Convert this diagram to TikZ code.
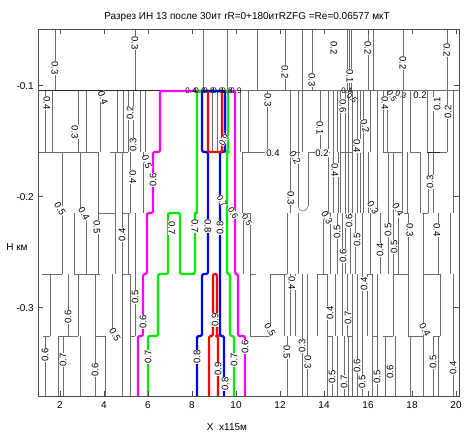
\documentclass[tikz,border=0pt]{standalone}
\usepackage{fontspec}
\setmainfont{Liberation Sans}
\definecolor{cmag}{RGB}{255,0,255}
\definecolor{cgrn}{RGB}{0,235,0}
\definecolor{cblu}{RGB}{0,0,255}
\definecolor{cred}{RGB}{255,0,0}
\begin{document}
\begin{tikzpicture}[x=1pt,y=-1pt,
  g/.style={draw=black!58,line width=0.5pt},
  gd/.style={draw=black!85,line width=0.9pt},
  frm/.style={draw=black!70,line width=0.6pt},
  cl/.style={line width=2.3pt,rounded corners=2pt,line join=round},
  lab/.style={font=\fontsize{9.5}{9.5}\selectfont,fill=white,inner sep=0.2pt},
  labs/.style={font=\fontsize{8.5}{8.5}\selectfont,fill=white,inner sep=0.1pt},
  labn/.style={font=\fontsize{8}{8}\selectfont,inner sep=0pt},
  tlab/.style={font=\fontsize{10}{10}\selectfont,inner sep=0pt},
]
\path[use as bounding box] (0,0) rectangle (465,434);
% ---- gray contour verticals per layer
\foreach \x in {55,135,203,227,257,285,302,312,347,349,351,368,373,403,447} \draw[g] (\x,29)--(\x,90);
\foreach \x in {45,52,78,86,100,117,123,128,133,140,145,212,217,240,248,267,290,298,302,320,328,333,337,340,345,348,352,357,360,363,370,377,383,387,402,410,427,433,447,453} \draw[g] (\x,90)--(\x,152);
\foreach \x in {62,80,98,115,122,130,143,242,290,328,333,338,340,345,348,352,357,360,363,368,377,388,393,402,407,420,428,433,453} \draw[g] (\x,152)--(\x,213);
\draw[g] (298,152)--(298,206); \draw[g] (308,152)--(308,206); \draw[g] (298,206) arc[start angle=180,end angle=360,radius=5pt];
\foreach \x in {62,74,86,98,115,122,128,135,243,250,287,298,323,330,337,342,345,350,355,362,370,380,388,393,398,408,423,438,450} \draw[g] (\x,213)--(\x,274);
\foreach \x in {50,68,78,95,112,122,130,135,250,270,284,290,295,302,307,317,327,335,342,347,352,357,362,367,372,377,393,408,423,440,453} \draw[g] (\x,274)--(\x,336);
\foreach \x in {45,58,63,80,95,105,122,130,287,302,307,327,332,337,344,348,352,357,362,372,377,385,395,410,423,433,438,453} \draw[g] (\x,336)--(\x,396);
% ---- boundary horizontals
\draw[g] (38,90)--(459,90);
\draw[gd] (38,90)--(165,90);
\foreach \a/\b in {38/98,110/128,242/265,290/300,308/330,340/352,383/402,410/420,427/447} \draw[g] (\a,152)--(\b,152);
\draw[gd] (427,152)--(440,152);
\foreach \a/\b in {98/115,122/130,243/250,327/330,398/408,422/428} \draw[g] (\a,213)--(\b,213);
\foreach \a/\b in {42/62,74/100,122/130,250/256,270/287,317/327,367/372,393/408,423/440} \draw[g] (\a,274)--(\b,274);
\foreach \a/\b in {43/50,58/78,95/105,130/135,250/270,327/332,347/352,372/377,383/393,408/423,433/440} \draw[g] (\a,336)--(\b,336);
% ---- coloured contours
\draw[cl,cmag] (138,396)--(138,336)--(143,336)--(143,274)--(147,274)--(147,213)--(153,213)--(153,152)--(160,152)--(160,91)--(235,91)--(235,274)--(238,274)--(238,336)--(245,336)--(245,396);
\draw[cl,cgrn] (148,396)--(148,336)--(158,336)--(158,274)--(168,274)--(168,213)--(180,213)--(180,274)--(195,274)--(195,213)--(197,213)--(197,91)--(228,91)--(228,152)--(227,152)--(227,274)--(230,274)--(230,336)--(234,336)--(234,396);
\draw[cl,cblu] (197,396)--(197,336)--(202,336)--(202,274)--(208,274)--(208,152)--(202,152)--(202,91)--(225,91)--(225,152)--(220,152)--(220,336)--(224,336)--(224,396);
\draw[cl,cred] (208,91)--(208,152)--(222,152)--(222,91);
\draw[cl,cred] (209,396)--(209,336)--(213,336)--(213,274)--(217,274)--(217,336)--(218,336)--(218,396);
% ---- frame and ticks
\draw[frm] (38,29) rectangle (459,396);
\foreach \x in {60,104,148,192,236,280,324,368,412,456} {\draw[frm] (\x,396)--(\x,391); \draw[frm] (\x,29)--(\x,34);}
\foreach \y in {85,196,307} {\draw[frm] (38,\y)--(43,\y); \draw[frm] (459,\y)--(454,\y);}
% ---- contour labels
\node[lab,rotate=-90] (t1) at (55,68) {0.3};
\node[lab,rotate=-90] (t2) at (135,43) {0.3};
\node[lab,rotate=-90] (t3) at (285,72) {0.2};
\node[lab,rotate=-90] (t4) at (312,80) {0.3};
\node[lab,rotate=-90] (t5) at (334,48) {0.2};
\node[lab,rotate=-90] (t6) at (350,76) {0.1};
\node[lab,rotate=-90] (t7) at (368,48) {0.2};
\node[lab,rotate=-90] (t8) at (403,63) {0.2};
\node[lab,rotate=-90] (t9) at (447,50) {0.2};
\node[lab,rotate=-90] (a1) at (47,103) {0.4};
\node[lab,rotate=-90] (a2) at (75,132) {0.3};
\node[lab,rotate=-70] (a3) at (103,98) {0.4};
\node[lab,rotate=90] (a4) at (130,113) {0.2};
\node[lab,rotate=90] (a5) at (133,145) {0.3};
\node[lab,rotate=-70] (a6) at (147,162) {0.5};
\node[lab,rotate=-90] (a7) at (268,100) {0.3};
\node[lab,rotate=-90] (a8) at (320,128) {0.1};
\node[lab,rotate=-75] (a9) at (365,126) {0.2};
\node[lab,rotate=-90] (a10) at (357,146) {0.4};
\node[lab,rotate=90] (a11) at (437,104) {0.1};
\node[lab,rotate=90] (a12) at (448,112) {0.2};
\node[lab] (a13) at (420,95) {0.2};
\node[lab,rotate=-90] (a14) at (385,103) {0.4};
\node[labn,rotate=-60] (a15) at (392,96) {0.5};
\node[labn,rotate=-20] (a16) at (401,95) {0.3};
\node[lab,rotate=-90] (a17) at (343,106) {0.6};
\node[labn,rotate=-45] (a18) at (352,98) {0.5};
\node[labn] (a19) at (347,91) {0.4};
\node[labn] (c1) at (191,91) {0.4};
\node[labn] (c2) at (200,91) {0.6};
\node[labn] (c3) at (209,91) {0.8};
\node[labn] (c4) at (218,91) {0.9};
\node[labn] (c5) at (227,91) {0.8};
\node[labn] (c6) at (236,91) {0.9};
\node[labs,rotate=60] (c7) at (224,140) {0.9};
\node[lab] (b1) at (273,153) {0.4};
\node[lab,rotate=-60] (b2) at (295,158) {0.2};
\node[lab] (b3) at (322,153) {0.2};
\node[lab,rotate=-90] (b4) at (133,177) {0.4};
\node[lab,rotate=90] (b5) at (153,180) {0.6};
\node[lab,rotate=-90] (b6) at (335,170) {0.4};
\node[lab,rotate=90] (b7) at (430,182) {0.3};
\node[lab,rotate=-90] (b8) at (291,198) {0.3};
\node[lab,rotate=-60] (d1) at (60,209) {0.5};
\node[lab,rotate=-60] (d2) at (84,214) {0.4};
\node[lab,rotate=-90] (d3) at (97,227) {0.5};
\node[lab,rotate=90] (d4) at (122,235) {0.4};
\node[lab,rotate=-90] (d5) at (172,228) {0.7};
\node[lab,rotate=-90] (d6) at (195,226) {0.7};
\node[lab,rotate=-90] (d7) at (208,226) {0.8};
\node[lab,rotate=90] (d8) at (220,228) {0.8};
\node[labs,rotate=-60] (d9) at (222,201) {0.7};
\node[labs,rotate=-60] (d10) at (233,213) {0.6};
\node[labs,rotate=-60] (d11) at (247,220) {0.5};
\node[lab,rotate=-60] (d12) at (327,218) {0.3};
\node[lab,rotate=90] (d13) at (337,232) {0.5};
\node[lab,rotate=90] (d14) at (349,221) {0.6};
\node[lab,rotate=90] (d15) at (357,240) {0.5};
\node[lab,rotate=-60] (d16) at (373,208) {0.3};
\node[lab,rotate=-60] (d17) at (398,210) {0.4};
\node[lab,rotate=90] (d18) at (388,230) {0.5};
\node[lab,rotate=90] (d19) at (394,247) {0.5};
\node[lab,rotate=-90] (d20) at (410,230) {0.3};
\node[lab,rotate=-90] (d21) at (437,230) {0.4};
\node[lab,rotate=90] (d22) at (343,256) {0.6};
\node[lab,rotate=90] (d23) at (380,250) {0.4};
\node[lab,rotate=90] (e1) at (68,317) {0.6};
\node[lab,rotate=-60] (e2) at (115,335) {0.5};
\node[lab,rotate=90] (e3) at (135,297) {0.5};
\node[lab,rotate=90] (e4) at (143,322) {0.6};
\node[lab,rotate=90] (e5) at (215,320) {0.9};
\node[lab,rotate=-90] (e6) at (292,283) {0.4};
\node[lab,rotate=-60] (e7) at (270,330) {0.5};
\node[lab,rotate=90] (e8) at (330,313) {0.4};
\node[lab,rotate=90] (e9) at (348,318) {0.7};
\node[lab,rotate=90] (e10) at (364,284) {0.4};
\node[lab,rotate=-60] (e11) at (425,330) {0.4};
\node[lab,rotate=90] (f1) at (45,355) {0.6};
\node[lab,rotate=90] (f2) at (63,360) {0.7};
\node[lab,rotate=90] (f3) at (95,370) {0.6};
\node[lab,rotate=90] (f4) at (148,357) {0.7};
\node[lab,rotate=90] (f5) at (197,357) {0.8};
\node[lab,rotate=90] (f6) at (218,369) {0.9};
\node[lab,rotate=90] (f7) at (225,384) {0.8};
\node[lab,rotate=90] (f8) at (234,360) {0.7};
\node[lab,rotate=90] (f9) at (245,347) {0.6};
\node[lab,rotate=-90] (f10) at (287,352) {0.5};
\node[lab,rotate=90] (f11) at (302,346) {0.3};
\node[lab,rotate=-90] (f12) at (308,362) {0.3};
\node[lab,rotate=90] (f13) at (332,377) {0.5};
\node[lab,rotate=90] (f14) at (344,382) {0.7};
\node[lab,rotate=90] (f15) at (357,366) {0.6};
\node[lab,rotate=90] (f16) at (362,382) {0.5};
\node[lab,rotate=90] (f17) at (377,377) {0.5};
\node[lab,rotate=90] (f18) at (390,372) {0.6};
\node[lab,rotate=90] (f19) at (433,362) {0.5};
\node[lab,rotate=90] (f20) at (453,368) {0.4};
% ---- axes text
\node[tlab] (title) at (247,17) {Разрез ИН 13 после 30ит rR=0+180итRZFG =Re=0.06577 мкТ};
\node[tlab,anchor=east] (y1) at (34,86) {-0.1};
\node[tlab,anchor=east] (y2) at (34,197) {-0.2};
\node[tlab,anchor=east] (y3) at (34,308) {-0.3};
\foreach \v [count=\i] in {2,4,...,20} \node[tlab] (xt\i) at (38+22*\v-22,405) {\v};
\node[tlab] (ylab) at (17,247) {Н км};
\node[tlab] (xlab) at (227,427) {X \ x115м};
\end{tikzpicture}
\end{document}
